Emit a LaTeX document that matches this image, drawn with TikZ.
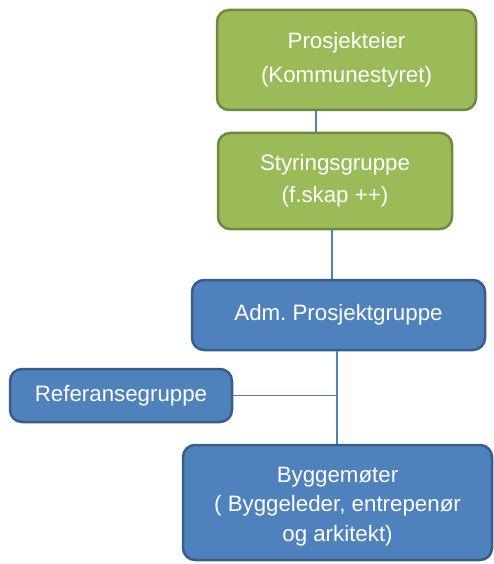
\documentclass[tikz,border=0pt]{standalone}
\usepackage{fontspec}
\setmainfont{Liberation Sans}
\frenchspacing
\definecolor{gfill}{HTML}{9BBB59}
\definecolor{gdraw}{HTML}{71893F}
\definecolor{bfill}{HTML}{4F81BD}
\definecolor{bdraw}{HTML}{385D8A}
\definecolor{lcol}{HTML}{4F81BD}
\begin{document}
\begin{tikzpicture}[x=1pt,y=-1pt,
  box/.style={rectangle, rounded corners=12pt, line width=2.5pt, text=white, align=center,
    font=\fontsize{22.3}{34}\selectfont, inner sep=0pt},
  gbox/.style={box, fill=gfill, draw=gdraw},
  bbox/.style={box, fill=bfill, draw=bdraw},
  txt/.style={text=white, align=center, inner sep=0pt, font=\fontsize{22.3}{29.5}\selectfont},
  conn/.style={draw=lcol, line width=1.3pt}]
\useasboundingbox (0,0) rectangle (494,564);
\node[gbox, minimum width=259pt, minimum height=100pt] (eier) at (346.5,60) {Prosjekteier\\(Kommunestyret)};
\node[gbox, minimum width=234pt, minimum height=96pt, font=\fontsize{22.3}{32}\selectfont] (styr) at (335,181) {Styringsgruppe\\(f.skap ++)};
\node[bbox, minimum width=293pt, minimum height=70pt] (adm) at (338.5,315) {Adm. Prosjektgruppe};
\node[bbox, minimum width=222pt, minimum height=53pt] (ref) at (121,395.5) {Referansegruppe};
\node[bbox, minimum width=309pt, minimum height=115pt] (bygg) at (337.5,502.5) {};
\node[txt] (byggtxt) at ([yshift=-4pt]bygg.center) {Byggemøter\\( Byggeleder, entrepenør\\og arkitekt)};
\coordinate (j) at (337,395.5);
\draw[conn] (316,0 |- eier.south) -- (316,0 |- styr.north);
\draw[conn] (332,0 |- styr.south) -- (332,0 |- adm.north);
\draw[conn] (j |- adm.south) -- (j |- bygg.north);
\draw[conn] (ref.east) -- (j);
\end{tikzpicture}
\end{document}
